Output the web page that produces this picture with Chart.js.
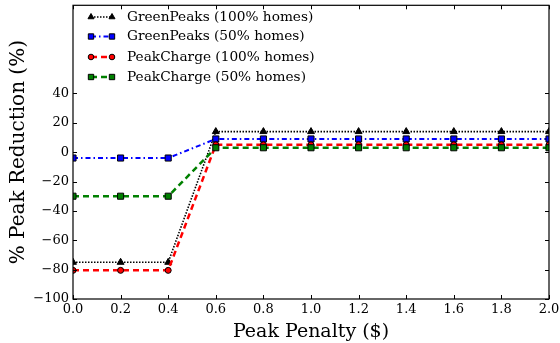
<!DOCTYPE html>
<html>
<head>
<meta charset="utf-8">
<script src="https://cdn.jsdelivr.net/npm/chart.js@4.4.1/dist/chart.umd.min.js"></script>
<style>
  html, body { margin: 0; padding: 0; background: #fff; }
  #wrap { width: 560px; height: 343px; }
</style>
</head>
<body>
<div id="wrap"><canvas id="c" width="560" height="343"></canvas></div>
<script>
// Peak penalty values ($) on the x axis
const penalties = [0.0, 0.2, 0.4, 0.6, 0.8, 1.0, 1.2, 1.4, 1.6, 1.8, 2.0];

// Peak reduction (%) for each scheme
const greenPeaks100 = [-75, -75, -75, 14, 14, 14, 14, 14, 14, 14, 14];
const greenPeaks50  = [-4, -4, -4, 9, 9, 9, 9, 9, 9, 9, 9];
const peakCharge100 = [-80.5, -80.5, -80.5, 5, 5, 5, 5, 5, 5, 5, 5];
const peakCharge50  = [-30, -30, -30, 3, 3, 3, 3, 3, 3, 3, 3];

const seriesLabels = [
  'GreenPeaks (100% homes)',
  'GreenPeaks (50% homes)',
  'PeakCharge (100% homes)',
  'PeakCharge (50% homes)'
];

// Labelled ticks
const xTicks = [0.0, 0.2, 0.4, 0.6, 0.8, 1.0, 1.2, 1.4, 1.6, 1.8, 2.0];
const yTicks = [-100, -80, -60, -40, -20, 0, 20, 40];

const SERIF = '"DejaVu Serif", serif';

const styles = [
  { color: '#000000', dash: [1.5, 1.5],     width: 1.6, point: 'triangle', radius: 4,   legendRadius: 3.5 },
  { color: '#0000ff', dash: [5, 3, 1.5, 3], width: 2,   point: 'rect',     radius: 4.3, legendRadius: 3.8 },
  { color: '#ff0000', dash: [6, 4],         width: 2.5, point: 'circle',   radius: 3,   legendRadius: 2.8 },
  { color: '#008000', dash: [6, 4],         width: 2.5, point: 'rect',     radius: 4.3, legendRadius: 3.8 }
];

const seriesData = [greenPeaks100, greenPeaks50, peakCharge100, peakCharge50];

const datasets = seriesData.map((vals, i) => ({
  label: seriesLabels[i],
  data: vals.map((v, j) => ({ x: penalties[j], y: v })),
  borderColor: styles[i].color,
  backgroundColor: styles[i].color,
  borderWidth: styles[i].width,
  borderDash: styles[i].dash,
  pointStyle: styles[i].point,
  pointRadius: styles[i].radius,
  pointBackgroundColor: styles[i].color,
  pointBorderColor: '#000000',
  pointBorderWidth: 1,
  tension: 0,
  order: 3 - i
}));

const fmt = v => String(v).replace('-', '\u2212');

// Inward ticks on all four sides, plus the frame
const frameTicks = {
  id: 'frameTicks',
  afterDraw(chart) {
    const { ctx, chartArea: a, scales: { x, y } } = chart;
    const L = 4;
    ctx.save();
    ctx.strokeStyle = '#000';
    ctx.lineWidth = 1;
    ctx.beginPath();
    xTicks.forEach(t => {
      const px = Math.round(x.getPixelForValue(t)) + 0.5;
      ctx.moveTo(px, a.bottom); ctx.lineTo(px, a.bottom - L);
      ctx.moveTo(px, a.top);    ctx.lineTo(px, a.top + L);
    });
    yTicks.forEach(t => {
      const py = Math.round(y.getPixelForValue(t)) + 0.5;
      ctx.moveTo(a.left, py);  ctx.lineTo(a.left + L, py);
      ctx.moveTo(a.right, py); ctx.lineTo(a.right - L, py);
    });
    ctx.stroke();
    ctx.lineWidth = 1.2;
    ctx.strokeRect(a.left, a.top, a.right - a.left, a.bottom - a.top);
    ctx.restore();
  }
};

// Legend: marker - line - marker, then the label
const serifLegend = {
  id: 'serifLegend',
  afterDraw(chart) {
    const { ctx } = chart;
    const rows = [17, 36.5, 57, 77];
    const x0 = 91, x1 = 112, tx = 127;
    ctx.save();
    chart.data.datasets.forEach((ds, i) => {
      const yy = rows[i];
      ctx.strokeStyle = ds.borderColor;
      ctx.lineWidth = ds.borderWidth;
      ctx.setLineDash(ds.borderDash);
      ctx.beginPath();
      ctx.moveTo(x0, yy); ctx.lineTo(x1, yy);
      ctx.stroke();
      ctx.setLineDash([]);
      ctx.fillStyle = ds.pointBackgroundColor;
      ctx.strokeStyle = '#000';
      ctx.lineWidth = 1;
      [x0, x1].forEach(px => {
        Chart.helpers.drawPoint(ctx, {
          pointStyle: ds.pointStyle,
          radius: styles[i].legendRadius,
          borderWidth: 1,
          rotation: 0
        }, px, yy);
      });
      ctx.fillStyle = '#000';
      ctx.font = '13.7px ' + SERIF;
      ctx.textBaseline = 'middle';
      ctx.textAlign = 'left';
      ctx.fillText(ds.label, tx, yy);
    });
    ctx.restore();
  }
};

new Chart(document.getElementById('c'), {
  type: 'line',
  data: { datasets },
  options: {
    responsive: false,
    animation: false,
    layout: { padding: { top: 5, right: 11, left: 0, bottom: 0 } },
    plugins: {
      legend: { display: false },
      tooltip: { enabled: false }
    },
    scales: {
      x: {
        type: 'linear',
        min: 0, max: 2,
        afterBuildTicks: s => { s.ticks = xTicks.map(v => ({ value: v })); },
        afterFit: s => { s.height = 44; s.paddingLeft = 0; s.paddingRight = 0; },
        grid: { display: false, drawTicks: false },
        border: { display: false },
        ticks: {
          color: '#000',
          padding: 3,
          font: { family: SERIF, size: 13 },
          maxRotation: 0,
          callback: v => Number(v).toFixed(1)
        },
        title: {
          display: true,
          text: 'Peak Penalty ($)',
          color: '#000',
          font: { family: SERIF, size: 19 },
          padding: { top: 0, bottom: 0 }
        }
      },
      y: {
        type: 'linear',
        min: -100, max: 100,
        afterBuildTicks: s => { s.ticks = yTicks.map(v => ({ value: v })); },
        afterFit: s => { s.width = 73; s.paddingTop = 0; s.paddingBottom = 0; },
        grid: { display: false, drawTicks: false },
        border: { display: false },
        ticks: {
          color: '#000',
          padding: 4,
          font: { family: SERIF, size: 13 },
          callback: v => fmt(v)
        },
        title: {
          display: true,
          text: '% Peak Reduction (%)',
          color: '#000',
          font: { family: SERIF, size: 20 },
          padding: { top: 7, bottom: 0 }
        }
      }
    }
  },
  plugins: [frameTicks, serifLegend]
});
</script>
</body>
</html>
